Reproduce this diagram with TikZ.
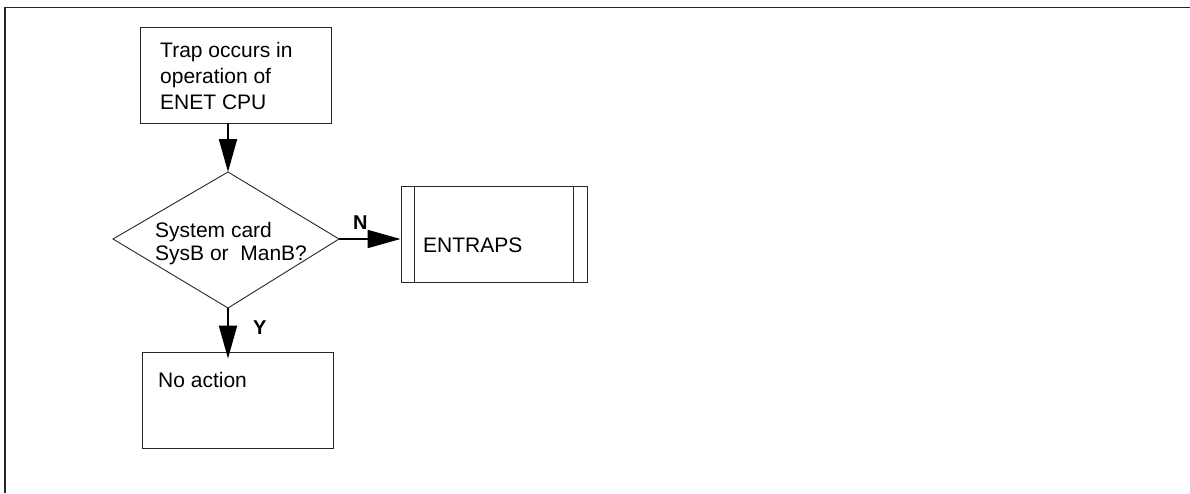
\documentclass[tikz,border=0pt]{standalone}
\usepackage{fontspec}
\setmainfont{Liberation Sans}
\usetikzlibrary{arrows.meta}
\tikzset{
  box/.style={draw=black!85, line width=0.9pt, rectangle, inner sep=0pt},
  lbl/.style={font=\fontsize{21}{25}\selectfont, inner sep=0pt, anchor=base west},
  yn/.style={font=\fontsize{20}{24}\selectfont\bfseries, inner sep=0pt, anchor=base west},
  flow/.style={line width=2pt, -{Triangle[length=33pt,width=18pt]}}
}
\begin{document}
\begin{tikzpicture}[x=1pt,y=-1pt]
\useasboundingbox (0,0) rectangle (1190,493);
% frame (top and left only)
\draw[line width=1.3pt, black!85] (5,493) -- (5,7.5) -- (1190,7.5);

% start box
\node[box, minimum width=191pt, minimum height=96pt] (t) at (235.5,75) {};
\node[lbl] (t1) at (160,57) {Trap occurs in};
\node[lbl] (t2) at (160,83) {operation of};
\node[lbl] (t3) at (160,109) {ENET CPU};

% decision diamond
\coordinate (dn) at (228,172);
\coordinate (de) at (339,239);
\coordinate (ds) at (228,308);
\coordinate (dw) at (113,239);
\draw[draw=black!85, line width=0.9pt] (dn) -- (de) -- (ds) -- (dw) -- cycle;
\node[lbl] (d1) at (155,237) {System card};
\node[lbl] (d2) at (155,260) {SysB or~ ManB?};

% ENTRAPS box
\node[box, minimum width=186pt, minimum height=96pt] (e) at (494,234) {};
\draw[draw=black!85, line width=0.9pt] ([xshift=14pt]e.north west) -- ([xshift=14pt]e.south west);
\draw[draw=black!85, line width=0.9pt] ([xshift=-14pt]e.north east) -- ([xshift=-14pt]e.south east);
\node[lbl] (et) at (423,252) {ENTRAPS};

% No action box
\node[box, minimum width=191pt, minimum height=96pt] (n) at (237.5,400) {};
\node[lbl] (nt) at (158,387) {No action};

% connectors
\draw[flow] (dn |- t.south) -- (dn);
\draw[flow] (de) -- (e.west |- de);
\draw[flow] (ds) -- ([yshift=-7pt]ds |- n.north);

\node[yn] (nl) at (353,229) {N};
\node[yn] (yl) at (253,334) {Y};
\end{tikzpicture}
\end{document}
